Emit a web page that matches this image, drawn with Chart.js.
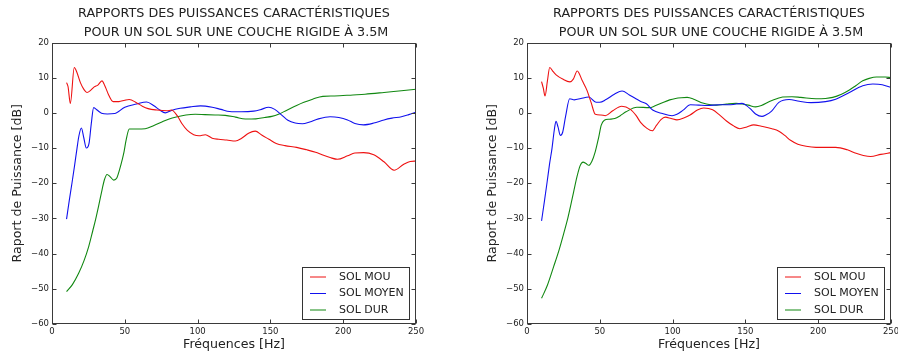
<!DOCTYPE html>
<html>
<head>
<meta charset="utf-8">
<script src="https://cdn.jsdelivr.net/npm/chart.js@4"></script>
<style>
 body{margin:0;background:#fff;width:898px;height:356px;overflow:hidden;display:flex}
 canvas{display:block}
</style>
</head>
<body>
<canvas id="gauche" width="449" height="356"></canvas>
<canvas id="droite" width="449" height="356"></canvas>
<script>
const titre = ["RAPPORTS DES PUISSANCES CARACTÉRISTIQUES", " POUR UN SOL SUR UNE COUCHE RIGIDE À 3.5M"];
const noms = ["SOL MOU", "SOL MOYEN", "SOL DUR"];
const couleurs = ["#ee1111", "#1111ee", "#118811"];
const xTicks = [0, 50, 100, 150, 200, 250];
const yTicks = [-60, -50, -40, -30, -20, -10, 0, 10, 20];

/* left chart */
const fMouA = [10,11,12.6,15.3,17,19.5,22,24,26.5,29,31.5,34.3,36.5,39,42,46,50,53,58,62,66,72,79,82,86,89.3,93,97.3,101,105.3,110,114.5,120,126,130,135,139.6,144,149,154,160,168,175,181,186,191,196,203,208,214,221,228,235,241.6,246,250];
const mouA  = [8.6,7.5,2.7,12.9,11.6,8.6,6.6,5.8,6.4,7.4,7.9,9.1,7.5,5,3.2,3.2,3.6,3.8,2.9,1.9,1.2,0.8,0.6,0.8,-0.8,-3.1,-5,-6.2,-6.5,-6.2,-7.2,-7.5,-7.7,-8,-7.3,-5.8,-5.2,-6.3,-7.5,-8.7,-9.3,-9.8,-10.5,-11.2,-12,-12.7,-13.2,-12.2,-11.4,-11.3,-11.9,-13.9,-16.3,-14.6,-13.8,-13.7];
const fMoyenA = [10,12,13.7,15.5,17.2,18.5,20.2,21.8,23.6,25.5,27,28.6,31,34,38,43,50,58,65,70,74,77.8,82,88,95,102,110,116,122,130,138.5,143,148.8,153,158,162,167,172,177,183,191,197,203,208,214,221,228,233.5,240,245,250];
const moyenA  = [-30.2,-24.5,-20,-15,-10,-6.5,-4.3,-7,-10,-8.5,-3,1.5,0.8,-0.1,-0.3,-0.2,1.6,2.5,3.1,2,0.8,0,0.7,1.3,1.7,2,1.6,1,0.4,0.3,0.5,0.9,1.6,1,-0.7,-2.1,-2.9,-3.1,-2.6,-1.7,-1.1,-1.3,-2,-3,-3.4,-2.9,-2,-1.5,-1.1,-0.5,0.2];
const fDurA = [10,14,18.3,22,25.2,28,30,32,34.3,36,37.8,40,42.4,44.5,46.5,48.1,49.5,51,53.1,58,64,70,75.5,80,86,92,98.4,105,112,119,126,132.8,140,146,151,156,161,168,173,179,186,194,206.7,215,228,240,250];
const durA  = [-50.8,-48.8,-45.6,-42,-38,-33.5,-30.2,-26.5,-22,-19,-17.5,-18.2,-19.1,-18.5,-16,-13.5,-11,-7.5,-4.6,-4.6,-4.5,-3.6,-2.6,-1.8,-1.1,-0.6,-0.4,-0.5,-0.6,-0.7,-1.2,-1.75,-1.7,-1.3,-1,-0.3,0.7,2.1,3,3.9,4.7,4.8,5.1,5.3,5.8,6.3,6.7];

/* right chart */
const fMouB = [10,11.2,12.4,14,15.6,18,20,24.5,29.5,31.8,34.5,38,41.2,44,46.9,50.8,53.8,58.9,65,71,75,78,82.4,86,89,92,95,99,103,108,112,117,121.4,127.5,132,137,141.5,146.2,151,155.7,161,168.3,173,177,181,186,191.7,198.5,212,220,226,231,236,243,250];
const mouB  = [8.9,7,4.8,9,12.9,11.7,10.8,9.6,8.8,9.6,11.9,9.1,6.4,3,-0.4,-0.6,-0.8,0.6,1.9,1,-0.8,-2.7,-4.4,-5.1,-3.5,-1.9,-1.2,-1.6,-2,-1.4,-0.6,0.8,1.4,0.9,-0.5,-2.3,-3.6,-4.5,-4,-3.4,-3.8,-4.5,-5.2,-6.4,-7.8,-8.9,-9.5,-9.8,-9.8,-10.5,-11.5,-12.1,-12.4,-11.8,-11.3];
const fMoyenB = [10,12,13.7,15.5,17.2,18.7,19.9,21.3,22.9,24.5,26.5,29.3,32.5,37,42.4,47.4,50,54.3,60,65.3,70.3,74,77.8,82,86.3,93,99.6,103,107,112.2,118,124,132,140,147.7,151,154,157,161.4,164,168,173,180,187,195,205,212,221.4,230.6,237.5,244,250];
const moyenB  = [-30.7,-25,-20,-14.5,-10,-5,-2.4,-4,-6.4,-5.5,-1,4,3.7,4.1,4.5,3,3,3.8,5.3,6.2,5.1,4.2,3.3,2.6,0.8,-0.2,-0.8,-0.4,0.7,2.3,2.2,2.1,2.3,2.3,2.7,2,0.9,-0.3,-1,-0.6,0.5,3,3.8,3.3,2.9,3.2,3.9,5.8,7.7,8.2,8,7.2];
const fDurB = [10,14,18.3,22,25.2,28,29.8,32,34.3,36.5,38.5,40.5,42.4,44.5,46.9,49.2,51,53.1,56.6,60.3,64,68,75.5,84,88,93,98,102,106,110,115,120.7,126,130,137,143.6,148,152,157,161,166.5,172,175.6,182,188,198.5,205,210,216,221.4,226,230.6,235,240,246,250];
const durB  = [-52.7,-49,-43.7,-39,-34.3,-30,-26.7,-22.5,-18.2,-15,-14,-14.4,-14.9,-13.8,-11,-7,-3.5,-2.1,-1.8,-1.6,-0.8,0.3,1.6,1.5,2,2.9,3.7,4.1,4.3,4.4,3.8,2.8,2.3,2.2,2.5,2.7,2.5,2.2,1.7,2.1,3.2,4.1,4.5,4.6,4.4,4,4.1,4.4,5.3,6.5,7.8,9.1,9.8,10.2,10.2,10];

const police = '"DejaVu Sans", sans-serif';
const encre = "#222";

function pts(fs, vs){ return fs.map((f,i)=>({x:f, y:vs[i]})); }
function moins(v){ return String(v).replace("-", "\u2212"); }

// frame + inward ticks on all four sides (matplotlib classic look)
const cadre = {
 id:"cadre",
 afterDatasetsDraw(chart){
   const {ctx, chartArea:a, scales:{x, y}} = chart;
   const L = Math.round(a.left)+0.5, R = Math.round(a.right)-0.5;
   const T = Math.round(a.top)+0.5, B = Math.round(a.bottom)-0.5;
   ctx.save();
   ctx.strokeStyle = "#3a3a3a";
   ctx.lineWidth = 1;
   ctx.beginPath();
   xTicks.forEach(v=>{
     const px = Math.round(x.getPixelForValue(v))+0.5;
     ctx.moveTo(px, B); ctx.lineTo(px, B-4);
     ctx.moveTo(px, T); ctx.lineTo(px, T+4);
   });
   yTicks.forEach(v=>{
     const py = Math.round(y.getPixelForValue(v))+0.5;
     ctx.moveTo(L, py); ctx.lineTo(L+4, py);
     ctx.moveTo(R, py); ctx.lineTo(R-4, py);
   });
   ctx.stroke();
   ctx.strokeRect(L, T, R-L, B-T);
   ctx.restore();
 }
};

// legend in a box, bottom right of the axes
const legendeBoite = {
 id:"legendeBoite",
 afterDraw(chart){
   const {ctx, chartArea:a} = chart;
   const sets = chart.data.datasets;
   ctx.save();
   ctx.font = "11px " + police;
   const tw = Math.max(...sets.map(d=>ctx.measureText(d.label).width));
   const w = Math.round(37 + tw + 5), h = 52;
   const x0 = Math.round(a.right - 7 - w), y0 = Math.round(a.bottom - 5 - h);
   ctx.fillStyle = "#fff";
   ctx.fillRect(x0, y0, w, h);
   ctx.strokeStyle = "#333";
   ctx.lineWidth = 1;
   ctx.strokeRect(x0+0.5, y0+0.5, w, h);
   sets.forEach((d,i)=>{
     const ry = y0 + 10 + i*16.5;
     ctx.strokeStyle = d.borderColor;
     ctx.beginPath();
     ctx.moveTo(x0+8, ry); ctx.lineTo(x0+24, ry);
     ctx.stroke();
     ctx.fillStyle = encre;
     ctx.textBaseline = "middle";
     ctx.fillText(d.label, x0+37, ry);
   });
   ctx.restore();
 }
};

function dessine(id, series, padL, padR){
 new Chart(document.getElementById(id),{
  type:"line",
  data:{
   datasets: series.map((s,i)=>({
     label:noms[i],
     data:s,
     borderColor:couleurs[i],
     borderWidth:1.1,
     pointRadius:0,
     fill:false,
     cubicInterpolationMode:"monotone"
   }))
  },
  options:{
   responsive:false,
   animation:false,
   layout:{padding:{left:padL, right:padR, top:0, bottom:0}},
   plugins:{
     legend:{display:false},
     tooltip:{enabled:false},
     title:{
       display:true,
       text:titre,
       fullSize:false,
       color:encre,
       font:{family:police, size:12.75, weight:"normal", lineHeight:1.5},
       padding:{top:4.25, bottom:0}
     }
   },
   scales:{
     x:{
       type:"linear", min:0, max:250,
       afterBuildTicks:s=>{ s.ticks = xTicks.map(v=>({value:v})); },
       afterFit:s=>{ s.height = 32; s.paddingLeft = 0; s.paddingRight = 0; },
       grid:{display:false, drawTicks:false},
       border:{display:false},
       ticks:{color:encre, padding:3, maxRotation:0, autoSkip:false,
              font:{family:police, size:8.5}, callback:v=>moins(v)},
       title:{display:true, text:"Fréquences [Hz]", color:encre,
              font:{family:police, size:12.6}, padding:{top:0, bottom:3.5}}
     },
     y:{
       min:-60, max:20,
       afterBuildTicks:s=>{ s.ticks = yTicks.map(v=>({value:v})); },
       afterFit:s=>{ s.width = 52; s.paddingTop = 0; s.paddingBottom = 0; },
       grid:{display:false, drawTicks:false},
       border:{display:false},
       ticks:{color:encre, padding:3, font:{family:police, size:8.5}, callback:v=>moins(v)},
       title:{display:true, text:"Raport de Puissance [dB]", color:encre,
              font:{family:police, size:12.6}, padding:{top:10.4, bottom:0}}
     }
   }
  },
  plugins:[cadre, legendeBoite]
 });
}

dessine("gauche", [pts(fMouA,mouA), pts(fMoyenA,moyenA), pts(fDurA,durA)], 0, 33);
dessine("droite", [pts(fMouB,mouB), pts(fMoyenB,moyenB), pts(fDurB,durB)], 26, 7);
</script>
</body>
</html>
